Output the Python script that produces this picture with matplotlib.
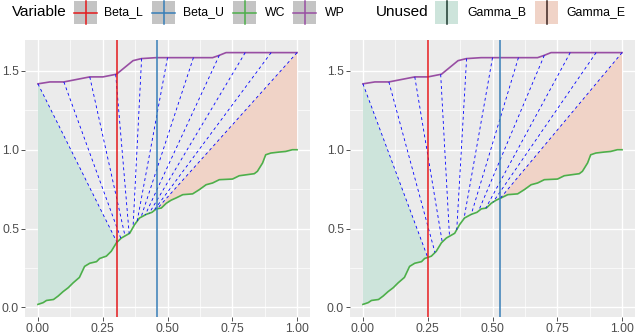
import numpy as np
import matplotlib
matplotlib.use("Agg")
import matplotlib.pyplot as plt
from matplotlib.patches import Rectangle

plt.rcParams['font.family'] = ['Liberation Sans', 'DejaVu Sans']

# curves (same in both panels)
wc_x = [0, 0.02, 0.033, 0.06, 0.078, 0.097, 0.117, 0.136, 0.16, 0.18, 0.2, 0.226, 0.238,
        0.264, 0.283, 0.303, 0.322, 0.354, 0.373, 0.392, 0.418, 0.44, 0.457, 0.476, 0.495,
        0.514, 0.533, 0.559, 0.597, 0.623, 0.649, 0.674, 0.7, 0.751, 0.777, 0.835, 0.847,
        0.867, 0.879, 0.899, 0.93, 0.956, 0.982, 1.0]
wc_y = [0.019, 0.03, 0.044, 0.05, 0.072, 0.10, 0.125, 0.156, 0.19, 0.26, 0.28, 0.29, 0.31,
        0.325, 0.356, 0.41, 0.44, 0.47, 0.525, 0.567, 0.59, 0.603, 0.625, 0.63, 0.66,
        0.68, 0.694, 0.715, 0.72, 0.747, 0.778, 0.789, 0.81, 0.814, 0.835, 0.848, 0.863,
        0.916, 0.968, 0.979, 0.985, 0.989, 1.0, 1.0]
wp_x = [0, 0.046, 0.1, 0.2, 0.251, 0.303, 0.367, 0.399, 0.456, 0.674, 0.697, 0.726, 1.0]
wp_y = [1.418, 1.43, 1.43, 1.462, 1.462, 1.479, 1.565, 1.578, 1.584, 1.584, 1.597, 1.616, 1.616]

top_x = [0, 0.1, 0.2, 0.3, 0.4, 0.5, 0.6, 0.7, 0.8, 0.9, 1.0]

beta_l = [0.305, 0.25]
beta_u = [0.46, 0.53]
bottom_x = [
    [0.305, 0.32, 0.336, 0.352, 0.367, 0.383, 0.398, 0.414, 0.429, 0.445, 0.46],
    [0.25, 0.278, 0.306, 0.334, 0.362, 0.39, 0.418, 0.446, 0.474, 0.502, 0.53],
]

col = {'Beta_L': '#E41A1C', 'Beta_U': '#377EB8', 'WC': '#4DAF4A', 'WP': '#984EA3'}
fill_b = '#CDE4DB'
fill_e = '#F0D3C7'

W, H = 636, 334
fig = plt.figure(figsize=(W / 100, H / 100), dpi=100)

panels = [(25, 40, 285, 277), (350, 40, 285, 277)]  # px: left, top, width, height

for k, (l, t, w, h) in enumerate(panels):
    ax = fig.add_axes([l / W, 1 - (t + h) / H, w / W, h / H])
    ax.set_facecolor('#EBEBEB')
    for s in ax.spines.values():
        s.set_visible(False)
    ax.set_xlim(-0.05, 1.05)
    ax.set_ylim(-0.061, 1.696)
    ax.set_xticks([0, 0.25, 0.5, 0.75, 1.0])
    ax.set_xticklabels(['0.00', '0.25', '0.50', '0.75', '1.00'])
    ax.set_yticks([0, 0.5, 1.0, 1.5])
    ax.set_yticklabels(['0.0', '0.5', '1.0', '1.5'])
    ax.set_xticks([0.125, 0.375, 0.625, 0.875], minor=True)
    ax.set_yticks([0.25, 0.75, 1.25], minor=True)
    ax.grid(True, which='major', color='white', lw=1.0)
    ax.grid(True, which='minor', color='white', lw=0.5)
    ax.set_axisbelow(True)
    ax.tick_params(which='major', length=2.75, width=0.6, color='#333333',
                   labelsize=8.8, labelcolor='#4D4D4D', pad=1.5)
    ax.tick_params(which='minor', length=0)

    bl, bu = beta_l[k], beta_u[k]
    # Gamma_B region
    xs = [x for x in wc_x if x < bl] + [bl]
    ys = list(np.interp(xs, wc_x, wc_y))
    ax.fill(xs + [0], ys + [wp_y[0]], color=fill_b, lw=0, zorder=1)
    # Gamma_E region
    xs = [bu] + [x for x in wc_x if x > bu]
    ys = list(np.interp(xs, wc_x, wc_y))
    ax.fill(xs + [1.0], ys + [wp_y[-1]], color=fill_e, lw=0, zorder=1)

    ax.plot(wc_x, wc_y, color=col['WC'], lw=1.2, zorder=3)
    ax.plot(wp_x, wp_y, color=col['WP'], lw=1.2, zorder=3)

    ty = np.interp(top_x, wp_x, wp_y)
    by = np.interp(bottom_x[k], wc_x, wc_y)
    for x0, y0, x1, y1 in zip(top_x, ty, bottom_x[k], by):
        ax.plot([x0, x1], [y0, y1], color='blue', lw=0.6, dashes=(3.5, 3.5), zorder=4)

    ax.axvline(bl, color=col['Beta_L'], lw=1.1, zorder=5)
    ax.axvline(bu, color=col['Beta_U'], lw=1.1, zorder=5)

# legend drawn in pixel space along the top
lg = fig.add_axes([0, 0, 1, 1])
lg.set_xlim(0, W)
lg.set_ylim(H, 0)
lg.axis('off')

cy = 12.5
lg.text(12, cy, 'Variable', fontsize=11, va='center', ha='left', color='black')
key_x = [74, 152, 233, 293]
lab_x = [104, 183, 265, 325]
for name, kx, tx in zip(['Beta_L', 'Beta_U', 'WC', 'WP'], key_x, lab_x):
    lg.add_patch(Rectangle((kx, 1), 23, 23, facecolor='#C4C4C4', edgecolor='none'))
    lg.plot([kx, kx + 23], [cy, cy], color=col[name], lw=1.1)
    lg.plot([kx + 11.5, kx + 11.5], [1, 24], color=col[name], lw=1.1)
    lg.text(tx, cy, name, fontsize=8.8, va='center', ha='left')

lg.text(376, cy, 'Unused', fontsize=11, va='center', ha='left')
for name, kx, tx, fc, lc in [('Gamma_B', 435, 467, fill_b, '#1E3A30'),
                              ('Gamma_E', 535, 566, fill_e, '#3C2520')]:
    lg.add_patch(Rectangle((kx, 1), 23, 23, facecolor=fc, edgecolor='none'))
    lg.plot([kx + 11.5, kx + 11.5], [1, 24], color=lc, lw=1.1)
    lg.text(tx, cy, name, fontsize=8.8, va='center', ha='left')

fig.savefig('out.png', dpi=100)
